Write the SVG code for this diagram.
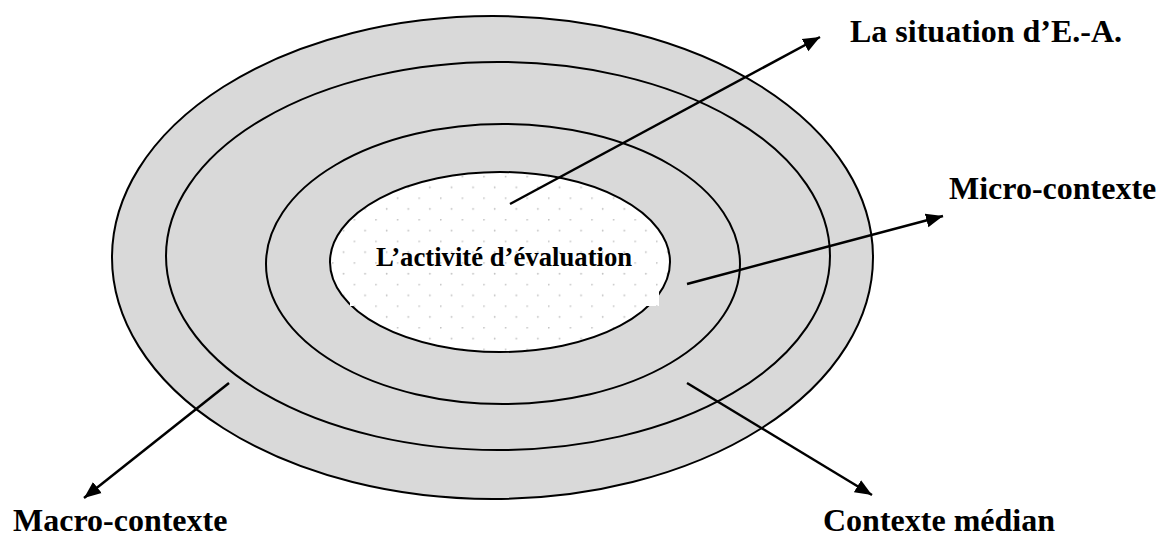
<svg xmlns="http://www.w3.org/2000/svg" width="1159" height="539" viewBox="0 0 1159 539">
<style>
.ring{fill:#d9d9d9;stroke:#000;stroke-width:2}
.lbl{font-family:"Liberation Serif","Times New Roman",serif;font-weight:bold;font-size:32px;fill:#000}
.inlbl{font-family:"Liberation Serif","Times New Roman",serif;font-weight:bold;font-size:26.7px;fill:#000}
.arr{stroke:#000;stroke-width:2.5;fill:none;marker-end:url(#ah)}
</style>
<defs>
<pattern id="dots" width="21.6" height="21.6" patternUnits="userSpaceOnUse" x="8" y="3">
<rect width="21.6" height="21.6" fill="#fff"/>
<circle cx="0.7" cy="0.7" r="0.9" fill="#c4c4c4"/>
<circle cx="11.5" cy="11.5" r="0.9" fill="#c4c4c4"/>
</pattern>
<marker id="ah" markerUnits="userSpaceOnUse" markerWidth="20" markerHeight="16" refX="17" refY="7" orient="auto" viewBox="0 0 20 14">
<path d="M0,0 L17,7 L0,14 Z" fill="#000"/>
</marker>
</defs>
<rect width="1159" height="539" fill="#fff"/>
<g id="macro-contexte"><ellipse class="ring" cx="492.5" cy="257.5" rx="380.5" ry="241.5"/></g>
<g id="contexte-median"><ellipse class="ring" cx="498" cy="256" rx="332" ry="194"/></g>
<g id="micro-contexte"><ellipse class="ring" cx="503" cy="264" rx="237" ry="140"/></g>
<g id="activite-evaluation">
<ellipse cx="500" cy="262" rx="170" ry="90" fill="url(#dots)" stroke="#000" stroke-width="2"/>
<rect x="350" y="232" width="309" height="74" fill="url(#dots)"/>
<text class="inlbl" x="504" y="266" text-anchor="middle">L’activité d’évaluation</text>
</g>
<g id="connectors">
<line class="arr" x1="510" y1="204" x2="820" y2="37"/>
<line class="arr" x1="687" y1="284" x2="943" y2="216"/>
<line class="arr" x1="229" y1="383" x2="84" y2="498"/>
<line class="arr" x1="687" y1="383" x2="872" y2="495"/>
</g>
<g id="labels">
<text class="lbl" x="850" y="42">La situation d’E.-A.</text>
<text class="lbl" x="949" y="199">Micro-contexte</text>
<text class="lbl" x="13" y="531">Macro-contexte</text>
<text class="lbl" x="823" y="531">Contexte médian</text>
</g>
</svg>
